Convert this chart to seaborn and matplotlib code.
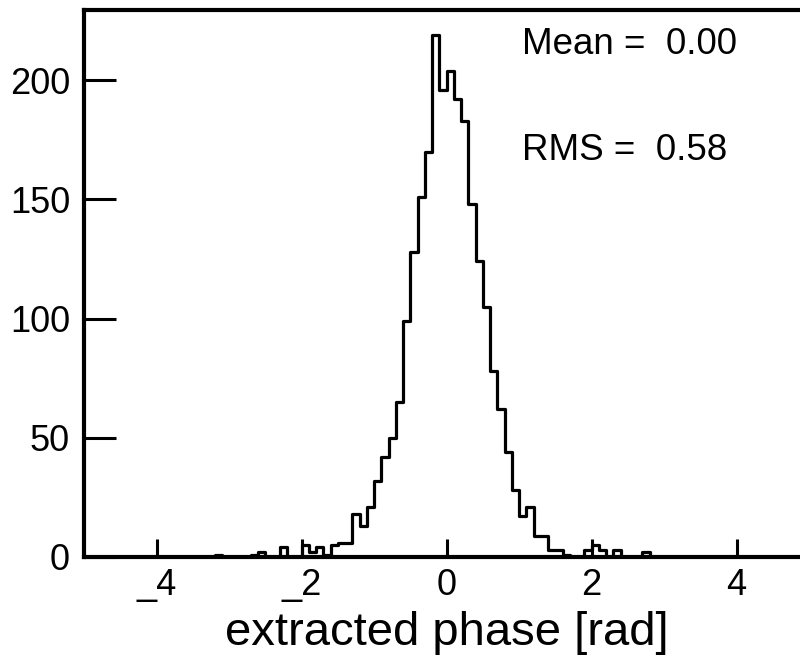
import numpy as np
import pandas as pd
import matplotlib
matplotlib.use("Agg")
import matplotlib.pyplot as plt
import seaborn as sns

# ---- data ----
bin_edges_range = (-5.0, 5.0)
bin_width = 0.1
# bin index k -> bin [k*0.1, (k+1)*0.1]
bin_index = [-32, -27, -26, -23, -20, -19, -18, -17, -16, -15, -14, -13, -12, -11,
             -10, -9, -8, -7, -6, -5, -4, -3, -2, -1,
             0, 1, 2, 3, 4, 5, 6, 7, 8, 9, 10, 11, 12, 13, 14, 15, 16,
             19, 20, 21, 23, 27]
counts = [1, 1, 2, 4, 5, 2, 4, 1, 5, 6, 6, 18, 13, 21,
          32, 42, 50, 65, 99, 128, 151, 170, 219, 196,
          204, 192, 183, 148, 124, 105, 78, 62, 44, 28, 17, 21, 9, 9, 3, 3, 1,
          3, 5, 3, 3, 2]
x_ticks = [-4, -2, 0, 2, 4]
x_tick_labels = ["_4", "_2", "0", "2", "4"]
y_ticks = [0, 50, 100, 150, 200]
x_label = "extracted phase [rad]"
stat_lines = ["Mean =  0.00", "RMS =  0.58"]

centers = (np.array(bin_index) + 0.5) * bin_width
df = pd.DataFrame({"phase": centers, "n": np.array(counts, dtype=float)})

sns.set_theme(style="white")
plt.rcParams["font.family"] = ["Liberation Sans", "DejaVu Sans"]

fig = plt.figure(figsize=(8.0, 6.59), dpi=100)
ax = fig.add_axes([84 / 800, 1 - 557 / 659, 725 / 800, 547 / 659])

sns.histplot(data=df, x="phase", weights="n", binwidth=bin_width,
             binrange=bin_edges_range, element="step",
             fill=False, color="black", linewidth=2.3, ax=ax)

ax.set_xlim(-5, 5)
ax.set_ylim(0, 229.4)
ax.set_xticks(x_ticks)
ax.set_xticklabels(x_tick_labels)
ax.set_yticks(y_ticks)
ax.set_yticklabels([str(v) for v in y_ticks])
ax.set_ylabel("")
ax.set_xlabel(x_label, fontsize=34, labelpad=6, color="black")

ax.tick_params(axis="y", direction="in", length=23, width=2.2, labelsize=26,
               pad=10, colors="black", left=True)
ax.tick_params(axis="x", direction="in", length=13, width=2.2, labelsize=26,
               pad=8, colors="black", bottom=True)
for s in ax.spines.values():
    s.set_color("black")
    s.set_linewidth(3)

for i, t in enumerate(stat_lines):
    fig.text(522 / 800, 1 - (54 + 106 * i) / 659, t, fontsize=26.5,
             ha="left", va="baseline", color="black")

fig.savefig("out.png", dpi=100)
